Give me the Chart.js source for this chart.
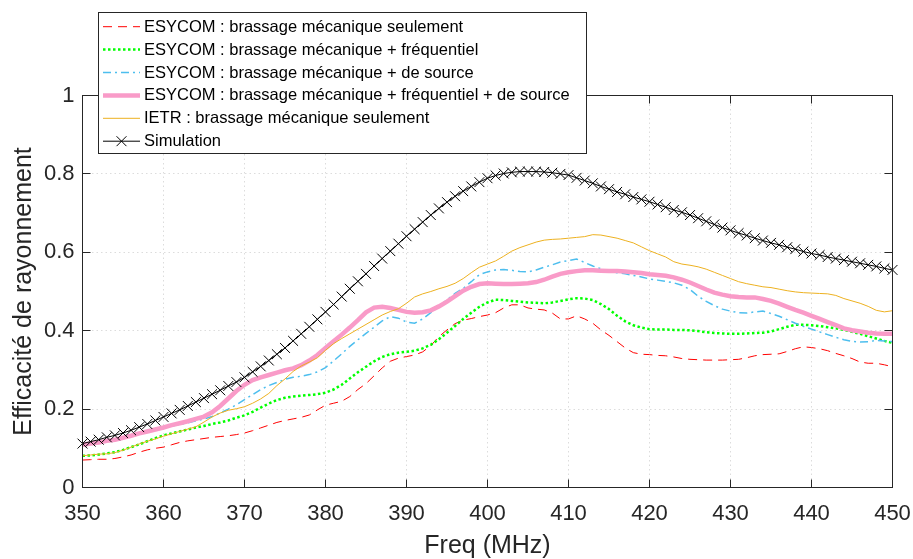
<!DOCTYPE html>
<html>
<head>
<meta charset="utf-8">
<script src="https://cdn.jsdelivr.net/npm/chart.js@4.4.0/dist/chart.umd.min.js"></script>
<style>
  html, body { margin: 0; padding: 0; background: #fff; }
</style>
</head>
<body>
<canvas id="chart" width="913" height="559"></canvas>
<script>
'use strict'
//
const freqs = [
  350, 351, 352, 353, 354, 355, 356, 357, 358, 359,
  360, 361, 362, 363, 364, 365, 366, 367, 368, 369,
  370, 371, 372, 373, 374, 375, 376, 377, 378, 379,
  380, 381, 382, 383, 384, 385, 386, 387, 388, 389,
  390, 391, 392, 393, 394, 395, 396, 397, 398, 399,
  400, 401, 402, 403, 404, 405, 406, 407, 408, 409,
  410, 411, 412, 413, 414, 415, 416, 417, 418, 419,
  420, 421, 422, 423, 424, 425, 426, 427, 428, 429,
  430, 431, 432, 433, 434, 435, 436, 437, 438, 439,
  440, 441, 442, 443, 444, 445, 446, 447, 448, 449,
  450
]

const seriesLabels = [
  'ESYCOM : brassage mécanique seulement',
  'ESYCOM : brassage mécanique + fréquentiel',
  'ESYCOM : brassage mécanique + de source',
  'ESYCOM : brassage mécanique + fréquentiel + de source',
  'IETR : brassage mécanique seulement',
  'Simulation'
]

const mecaOnly = [
  0.070, 0.071, 0.072, 0.072, 0.074, 0.078, 0.083, 0.090, 0.096, 0.100,
  0.103, 0.109, 0.115, 0.119, 0.122, 0.125, 0.128, 0.130, 0.132, 0.135,
  0.139, 0.145, 0.152, 0.159, 0.166, 0.171, 0.175, 0.179, 0.185, 0.198,
  0.210, 0.215, 0.220, 0.232, 0.250, 0.265, 0.285, 0.305, 0.322, 0.330,
  0.334, 0.338, 0.346, 0.362, 0.385, 0.402, 0.418, 0.427, 0.431, 0.436,
  0.440, 0.446, 0.458, 0.466, 0.466, 0.458, 0.455, 0.453, 0.445, 0.430,
  0.430, 0.438, 0.430, 0.419, 0.402, 0.388, 0.372, 0.356, 0.344, 0.340,
  0.339, 0.337, 0.336, 0.333, 0.329, 0.327, 0.326, 0.325, 0.325, 0.325,
  0.326, 0.327, 0.331, 0.336, 0.339, 0.340, 0.341, 0.347, 0.354, 0.359,
  0.357, 0.354, 0.349, 0.342, 0.336, 0.329, 0.320, 0.317, 0.317, 0.313,
  0.308
]

const mecaFreq = [
  0.081, 0.082, 0.084, 0.087, 0.090, 0.096, 0.103, 0.110, 0.118, 0.126,
  0.133, 0.138, 0.143, 0.148, 0.153, 0.157, 0.162, 0.166, 0.171, 0.178,
  0.184, 0.193, 0.204, 0.214, 0.223, 0.229, 0.232, 0.234, 0.236, 0.238,
  0.242, 0.250, 0.262, 0.278, 0.294, 0.308, 0.322, 0.333, 0.340, 0.344,
  0.346, 0.349, 0.355, 0.364, 0.378, 0.395, 0.412, 0.430, 0.446, 0.461,
  0.472, 0.479, 0.478, 0.476, 0.474, 0.472, 0.471, 0.470, 0.472, 0.476,
  0.480, 0.483, 0.482, 0.478, 0.468, 0.455, 0.438, 0.424, 0.414, 0.408,
  0.404, 0.403, 0.403, 0.402, 0.402, 0.401, 0.399, 0.396, 0.394, 0.393,
  0.392, 0.392, 0.393, 0.394, 0.395, 0.398, 0.404, 0.410, 0.415, 0.415,
  0.414, 0.412, 0.409, 0.406, 0.402, 0.397, 0.392, 0.386, 0.380, 0.374,
  0.369
]

const mecaSource = [
  0.108, 0.111, 0.115, 0.119, 0.123, 0.127, 0.132, 0.137, 0.143, 0.148,
  0.153, 0.157, 0.161, 0.165, 0.170, 0.175, 0.181, 0.190, 0.200, 0.211,
  0.224, 0.237, 0.250, 0.260, 0.268, 0.276, 0.281, 0.284, 0.288, 0.295,
  0.306, 0.323, 0.341, 0.360, 0.377, 0.393, 0.409, 0.425, 0.436, 0.432,
  0.422, 0.419, 0.430, 0.446, 0.462, 0.479, 0.495, 0.508, 0.525, 0.543,
  0.550, 0.555, 0.556, 0.554, 0.551, 0.550, 0.555, 0.562, 0.568, 0.575,
  0.579, 0.583, 0.574, 0.565, 0.558, 0.552, 0.548, 0.545, 0.541, 0.537,
  0.532, 0.529, 0.526, 0.522, 0.516, 0.505, 0.488, 0.475, 0.464, 0.455,
  0.450, 0.446, 0.445, 0.448, 0.450, 0.444, 0.437, 0.428, 0.419, 0.411,
  0.404, 0.397, 0.390, 0.383, 0.377, 0.373, 0.371, 0.372, 0.375, 0.374,
  0.372
]

const mecaFreqSource = [
  0.109, 0.112, 0.115, 0.119, 0.122, 0.127, 0.132, 0.138, 0.143, 0.148,
  0.153, 0.159, 0.164, 0.169, 0.175, 0.181, 0.192, 0.208, 0.227, 0.246,
  0.262, 0.274, 0.281, 0.287, 0.293, 0.299, 0.304, 0.312, 0.324, 0.338,
  0.356, 0.373, 0.390, 0.408, 0.427, 0.447, 0.459, 0.461, 0.458, 0.453,
  0.448, 0.446, 0.447, 0.452, 0.462, 0.474, 0.488, 0.502, 0.512, 0.519,
  0.521, 0.520, 0.519, 0.519, 0.520, 0.521, 0.524, 0.530, 0.538, 0.545,
  0.549, 0.552, 0.554, 0.554, 0.553, 0.552, 0.552, 0.551, 0.549, 0.547,
  0.544, 0.542, 0.540, 0.536, 0.530, 0.523, 0.514, 0.505, 0.497, 0.492,
  0.488, 0.486, 0.485, 0.485, 0.481, 0.476, 0.469, 0.461, 0.453, 0.446,
  0.438, 0.430, 0.422, 0.414, 0.406, 0.401, 0.398, 0.395, 0.393, 0.392,
  0.392
]

const ietrMeca = [
  0.081, 0.083, 0.085, 0.086, 0.089, 0.095, 0.103, 0.111, 0.118, 0.124,
  0.131, 0.137, 0.143, 0.149, 0.155, 0.167, 0.180, 0.190, 0.197, 0.201,
  0.206, 0.215, 0.226, 0.240, 0.260, 0.277, 0.296, 0.310, 0.320, 0.331,
  0.350, 0.367, 0.380, 0.392, 0.404, 0.416, 0.428, 0.440, 0.449, 0.456,
  0.470, 0.486, 0.494, 0.500, 0.507, 0.513, 0.521, 0.533, 0.548, 0.562,
  0.570, 0.578, 0.590, 0.603, 0.612, 0.619, 0.626, 0.631, 0.633, 0.634,
  0.636, 0.638, 0.640, 0.645, 0.644, 0.640, 0.636, 0.630, 0.624, 0.614,
  0.604, 0.596, 0.588, 0.576, 0.570, 0.567, 0.563, 0.557, 0.549, 0.541,
  0.533, 0.525, 0.520, 0.516, 0.512, 0.510, 0.506, 0.502, 0.499, 0.497,
  0.496, 0.495, 0.494, 0.490, 0.482, 0.476, 0.470, 0.462, 0.452, 0.448,
  0.451
]

const simulation = [
  0.112, 0.117, 0.122, 0.128, 0.133, 0.139, 0.146, 0.154, 0.162, 0.171,
  0.180, 0.189, 0.198, 0.208, 0.218, 0.228, 0.238, 0.248, 0.259, 0.269,
  0.281, 0.295, 0.309, 0.324, 0.340, 0.356, 0.374, 0.392, 0.410, 0.429,
  0.448, 0.467, 0.487, 0.507, 0.526, 0.545, 0.565, 0.584, 0.603, 0.622,
  0.641, 0.659, 0.677, 0.695, 0.712, 0.728, 0.743, 0.756, 0.768, 0.779,
  0.789, 0.796, 0.801, 0.804, 0.806, 0.806, 0.806, 0.805, 0.803, 0.800,
  0.797, 0.790, 0.783, 0.776, 0.768, 0.761, 0.754, 0.748, 0.741, 0.735,
  0.729, 0.722, 0.715, 0.708, 0.702, 0.695, 0.687, 0.679, 0.671, 0.663,
  0.656, 0.649, 0.643, 0.636, 0.630, 0.624, 0.619, 0.613, 0.608, 0.602,
  0.597, 0.593, 0.588, 0.584, 0.580, 0.576, 0.572, 0.568, 0.564, 0.559,
  0.555
]

const seriesValues = [mecaOnly, mecaFreq, mecaSource, mecaFreqSource, ietrMeca, simulation]

// line styles, same order as the labels
const styles = [
  { color: '#ff0000', width: 1, dash: [9, 6] },
  { color: '#00ff00', width: 2.5, dash: [2.5, 2.5] },
  { color: '#4dbeee', width: 1.5, dash: [8, 4, 2, 4] },
  { color: '#f99bc8', width: 4.5, dash: [] },
  { color: '#edb120', width: 1, dash: [] },
  { color: '#000000', width: 1, dash: [], marker: true }
]

const fontFamily = '"Liberation Sans", Arial, Helvetica, sans-serif'
const axisColor = '#262626'
const tickLen = 8

function drawCross(ctx, x, y, r) {
  const d = r * Math.SQRT1_2
  ctx.moveTo(x - d, y - d)
  ctx.lineTo(x + d, y + d)
  ctx.moveTo(x - d, y + d)
  ctx.lineTo(x + d, y - d)
}

const framePlugin = {
  id: 'frame',
  afterDatasetsDraw(chart) {
    const { ctx, chartArea: a, scales } = chart
    ctx.save()
    ctx.strokeStyle = axisColor
    ctx.lineWidth = 1
    ctx.setLineDash([])
    ctx.beginPath()
    scales.x.ticks.forEach((t) => {
      const px = Math.floor(scales.x.getPixelForValue(t.value)) + 0.5
      ctx.moveTo(px, a.bottom)
      ctx.lineTo(px, a.bottom - tickLen)
      ctx.moveTo(px, a.top)
      ctx.lineTo(px, a.top + tickLen)
    })
    scales.y.ticks.forEach((t) => {
      const py = Math.floor(scales.y.getPixelForValue(t.value)) + 0.5
      ctx.moveTo(a.left, py)
      ctx.lineTo(a.left + tickLen, py)
      ctx.moveTo(a.right, py)
      ctx.lineTo(a.right - tickLen, py)
    })
    ctx.stroke()
    ctx.strokeRect(a.left, a.top, a.right - a.left, a.bottom - a.top)
    ctx.restore()
  },
  afterDraw(chart) {
    const ctx = chart.ctx
    const box = { x: 98.5, y: 12.5, w: 488, h: 141 }
    ctx.save()
    ctx.fillStyle = '#ffffff'
    ctx.fillRect(box.x, box.y, box.w, box.h)
    ctx.strokeStyle = axisColor
    ctx.lineWidth = 1
    ctx.strokeRect(box.x, box.y, box.w, box.h)

    ctx.font = '16.5px ' + fontFamily
    ctx.textBaseline = 'middle'
    ctx.textAlign = 'left'
    seriesLabels.forEach((label, i) => {
      const st = styles[i]
      const yy = 26.7 + i * 22.9
      ctx.beginPath()
      ctx.strokeStyle = st.color
      ctx.lineWidth = st.width
      ctx.setLineDash(st.dash)
      ctx.moveTo(103, yy)
      ctx.lineTo(140, yy)
      ctx.stroke()
      if (st.marker) {
        ctx.setLineDash([])
        ctx.beginPath()
        drawCross(ctx, 121.5, yy, 7)
        ctx.stroke()
      }
      ctx.fillStyle = '#000000'
      ctx.fillText(label, 144, yy + 0.5)
    })
    ctx.restore()
  }
}

const datasets = seriesLabels.map((label, i) => ({
  label,
  data: freqs.map((f, k) => ({ x: f, y: seriesValues[i][k] })),
  borderColor: styles[i].color,
  backgroundColor: styles[i].color,
  borderWidth: styles[i].width,
  borderDash: styles[i].dash,
  pointRadius: styles[i].marker ? 7 : 0,
  pointStyle: 'crossRot',
  pointBorderColor: styles[i].color,
  pointBorderWidth: 1,
  fill: false,
  tension: 0,
  clip: false,
  order: seriesLabels.length - 1 - i
}))

const gridStyle = {
  color: 'rgba(38, 38, 38, 0.16)',
  lineWidth: 1,
  drawTicks: false
}

new Chart(document.getElementById('chart'), {
  type: 'line',
  data: { datasets },
  options: {
    responsive: false,
    animation: false,
    devicePixelRatio: 1,
    layout: {
      padding: { top: 95.5, right: 20.5, bottom: 0, left: 0 }
    },
    scales: {
      x: {
        type: 'linear',
        min: 350,
        max: 450,
        grid: gridStyle,
        border: { display: false, dash: [1.5, 3] },
        ticks: {
          stepSize: 10,
          maxRotation: 0,
          padding: 13,
          color: axisColor,
          font: { family: fontFamily, size: 22 }
        },
        title: {
          display: true,
          text: 'Freq (MHz)',
          color: axisColor,
          font: { family: fontFamily, size: 25, lineHeight: 1 },
          padding: { top: 0, bottom: 0 }
        },
        afterFit(scale) {
          scale.height = 71.5
          scale.paddingLeft = 0
          scale.paddingRight = 0
        }
      },
      y: {
        min: 0,
        max: 1,
        grid: gridStyle,
        border: { display: false, dash: [1.5, 3] },
        ticks: {
          stepSize: 0.2,
          padding: 8,
          color: axisColor,
          font: { family: fontFamily, size: 22 },
          callback: (v) => (v === 0 || v === 1 ? String(v) : v.toFixed(1))
        },
        title: {
          display: true,
          text: 'Efficacité de rayonnement',
          color: axisColor,
          font: { family: fontFamily, size: 25, lineHeight: 1 },
          padding: { top: 12, bottom: 0 }
        },
        afterFit(scale) {
          scale.width = 82.5
          scale.paddingTop = 0
          scale.paddingBottom = 0
        }
      }
    },
    plugins: {
      legend: { display: false },
      tooltip: { enabled: false }
    }
  },
  plugins: [framePlugin]
})
</script>
</body>
</html>
